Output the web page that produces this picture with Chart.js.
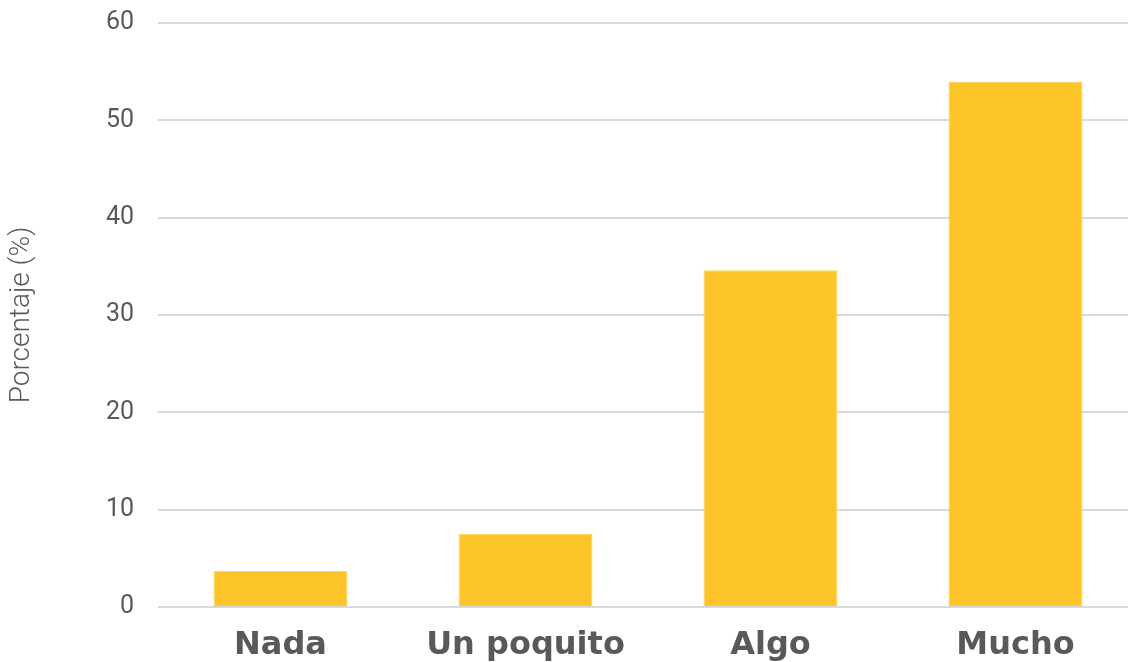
<!DOCTYPE html>
<html>
<head>
<meta charset="utf-8">
<script src="https://cdn.jsdelivr.net/npm/chart.js@4/dist/chart.umd.min.js"></script>
<style>
  html, body { margin: 0; padding: 0; background: #fff; overflow: hidden; }
  /* el área del gráfico sigue un poco más allá del borde derecho */
  #wrap { width: 1138px; height: 662px; }
</style>
</head>
<body>
<div id="wrap"><canvas id="chart"></canvas></div>
<script>
// Datos
const categories = ['Nada', 'Un poquito', 'Algo', 'Mucho'];
const values = [3.7, 7.5, 34.6, 54.0];
const yTicks = [0, 10, 20, 30, 40, 50, 60];
const yTitle = 'Porcentaje (%)';

const ctx = document.getElementById('chart').getContext('2d');
new Chart(ctx, {
    type: 'bar',
    data: {
        labels: categories,
        datasets: [{
            data: values,
            backgroundColor: '#FDC52A',
            borderColor: '#FFD45A',
            borderWidth: 1,
            barPercentage: 0.547,
            categoryPercentage: 1.0
        }]
    },
    options: {
        responsive: true,
        maintainAspectRatio: false,
        animation: false,
        layout: { padding: { top: 23, right: 0, bottom: 0, left: 0 } },
        plugins: {
            legend: { display: false },
            tooltip: { enabled: false }
        },
        scales: {
            y: {
                min: 0,
                max: 60,
                afterFit: (scale) => {
                    scale.width = 158;
                    scale.paddingTop = 0;
                    scale.paddingBottom = 0;
                },
                afterBuildTicks: (scale) => { scale.ticks = yTicks.map(v => ({ value: v })); },
                ticks: {
                    color: '#595959',
                    font: { family: 'Roboto', size: 25 },
                    padding: 24
                },
                title: {
                    display: true,
                    text: yTitle,
                    color: '#595959',
                    font: { family: 'Roboto', size: 28, weight: 300 },
                    padding: { top: 5, bottom: 0 }
                },
                grid: { color: '#d9d9d9', lineWidth: 2, drawTicks: false },
                border: { display: false }
            },
            x: {
                afterFit: (scale) => {
                    scale.height = 55;
                    scale.paddingLeft = 0;
                    scale.paddingRight = 0;
                },
                ticks: {
                    color: '#595959',
                    font: { family: 'DejaVu Sans', size: 32, weight: 'bold' },
                    padding: 11
                },
                grid: { display: false },
                border: { display: false }
            }
        }
    }
});
</script>
</body>
</html>
